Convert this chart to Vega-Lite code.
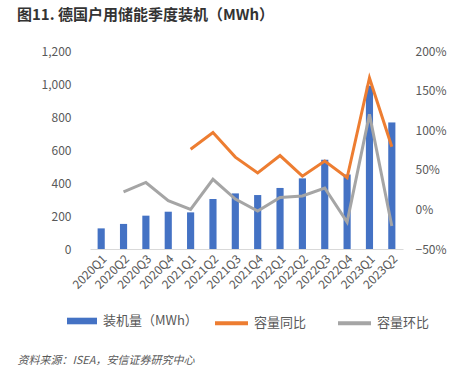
{
  "$schema": "https://vega.github.io/schema/vega-lite/v6.json",
  "width": 313,
  "height": 198,
  "autosize": "none",
  "padding": {"left": 90, "top": 51, "right": 63, "bottom": 127},
  "background": "white",
  "config": {
    "font": "Noto Sans CJK SC",
    "view": {"stroke": null},
    "axis": {"labelFont": "Noto Sans CJK SC", "labelColor": "#595959", "labelFontSize": 12, "grid": false},
    "legend": {"padding": 0, "labelFont": "Noto Sans CJK SC", "labelColor": "#595959", "labelFontSize": 13}
  },
  "title": {
    "text": "图11. 德国户用储能季度装机（MWh）",
    "anchor": "start",
    "frame": "group",
    "dx": -73,
    "offset": 22,
    "fontSize": 15,
    "fontWeight": "bold",
    "color": "#333333",
    "font": "Noto Sans CJK SC"
  },
  "datasets": {
    "bars": [
      {"q": "2020Q1", "vol": 125, "s": "装机量（MWh）"},
      {"q": "2020Q2", "vol": 152, "s": "装机量（MWh）"},
      {"q": "2020Q3", "vol": 202, "s": "装机量（MWh）"},
      {"q": "2020Q4", "vol": 226, "s": "装机量（MWh）"},
      {"q": "2021Q1", "vol": 222, "s": "装机量（MWh）"},
      {"q": "2021Q2", "vol": 303, "s": "装机量（MWh）"},
      {"q": "2021Q3", "vol": 337, "s": "装机量（MWh）"},
      {"q": "2021Q4", "vol": 327, "s": "装机量（MWh）"},
      {"q": "2022Q1", "vol": 370, "s": "装机量（MWh）"},
      {"q": "2022Q2", "vol": 428, "s": "装机量（MWh）"},
      {"q": "2022Q3", "vol": 541, "s": "装机量（MWh）"},
      {"q": "2022Q4", "vol": 452, "s": "装机量（MWh）"},
      {"q": "2023Q1", "vol": 990, "s": "装机量（MWh）"},
      {"q": "2023Q2", "vol": 767, "s": "装机量（MWh）"}
    ],
    "rates": [
      {"q": "2021Q1", "series": "容量同比", "v": 0.76},
      {"q": "2021Q2", "series": "容量同比", "v": 0.97},
      {"q": "2021Q3", "series": "容量同比", "v": 0.66},
      {"q": "2021Q4", "series": "容量同比", "v": 0.46},
      {"q": "2022Q1", "series": "容量同比", "v": 0.68},
      {"q": "2022Q2", "series": "容量同比", "v": 0.42},
      {"q": "2022Q3", "series": "容量同比", "v": 0.61},
      {"q": "2022Q4", "series": "容量同比", "v": 0.40},
      {"q": "2023Q1", "series": "容量同比", "v": 1.66},
      {"q": "2023Q2", "series": "容量同比", "v": 0.79},
      {"q": "2020Q2", "series": "容量环比", "v": 0.22},
      {"q": "2020Q3", "series": "容量环比", "v": 0.34},
      {"q": "2020Q4", "series": "容量环比", "v": 0.11},
      {"q": "2021Q1", "series": "容量环比", "v": 0.00},
      {"q": "2021Q2", "series": "容量环比", "v": 0.38},
      {"q": "2021Q3", "series": "容量环比", "v": 0.13},
      {"q": "2021Q4", "series": "容量环比", "v": -0.02},
      {"q": "2022Q1", "series": "容量环比", "v": 0.15},
      {"q": "2022Q2", "series": "容量环比", "v": 0.17},
      {"q": "2022Q3", "series": "容量环比", "v": 0.27},
      {"q": "2022Q4", "series": "容量环比", "v": -0.16},
      {"q": "2023Q1", "series": "容量环比", "v": 1.20},
      {"q": "2023Q2", "series": "容量环比", "v": -0.21}
    ]
  },
  "layer": [
    {
      "data": {"name": "bars"},
      "mark": {"type": "bar", "width": {"band": 0.32}},
      "encoding": {
        "x": {
          "field": "q", "type": "ordinal", "sort": null,
          "scale": {"paddingInner": 0, "paddingOuter": 0},
          "axis": {
            "labelAngle": -45, "labelAlign": "right", "labelBaseline": "top", "labelPadding": 4,
            "labelOverlap": false,
            "ticks": false, "tickSize": 0, "domainColor": "#D9D9D9", "domainWidth": 1,
            "title": "资料来源：ISEA，安信证券研究中心",
            "titleX": -73, "titleY": 111, "titleAlign": "left", "titleBaseline": "middle", "titleAngle": 0,
            "titleFontStyle": "italic", "titleFontSize": 11, "titleFontWeight": "normal", "titleColor": "#595959",
            "titleFont": "Noto Sans CJK SC"
          }
        },
        "y": {
          "field": "vol", "type": "quantitative",
          "scale": {"domain": [0, 1200]},
          "axis": {"values": [0, 200, 400, 600, 800, 1000, 1200], "format": ",d", "domain": false, "ticks": false, "tickSize": 0, "labelPadding": 19, "title": null}
        },
        "color": {
          "field": "s", "type": "nominal",
          "scale": {"range": ["#4472C4"]},
          "legend": {
            "orient": "none", "legendX": -23, "legendY": 255, "title": null,
            "symbolType": "M-1,-0.22H1V0.22H-1Z", "symbolSize": 900, "symbolStrokeWidth": 0,
            "labelOffset": 6
          }
        }
      }
    },
    {
      "data": {"name": "rates"},
      "mark": {"type": "line", "strokeWidth": 3},
      "encoding": {
        "x": {"field": "q", "type": "ordinal", "sort": null},
        "y": {
          "field": "v", "type": "quantitative",
          "scale": {"domain": [-0.5, 2.0]},
          "axis": {"orient": "right", "values": [-0.5, 0, 0.5, 1, 1.5, 2], "format": ".0%", "domain": false, "ticks": false, "tickSize": 0, "labelPadding": 12, "title": null}
        },
        "color": {
          "field": "series", "type": "nominal",
          "scale": {"domain": ["容量同比", "容量环比"], "range": ["#ED7D31", "#A5A5A5"]},
          "legend": {
            "orient": "none", "legendX": 123, "legendY": 253.5, "title": null, "direction": "horizontal",
            "symbolType": "stroke", "symbolSize": 1089, "symbolStrokeWidth": 4,
            "labelOffset": 4, "columnPadding": 23
          }
        }
      }
    }
  ],
  "resolve": {"scale": {"y": "independent", "color": "independent"}}
}
